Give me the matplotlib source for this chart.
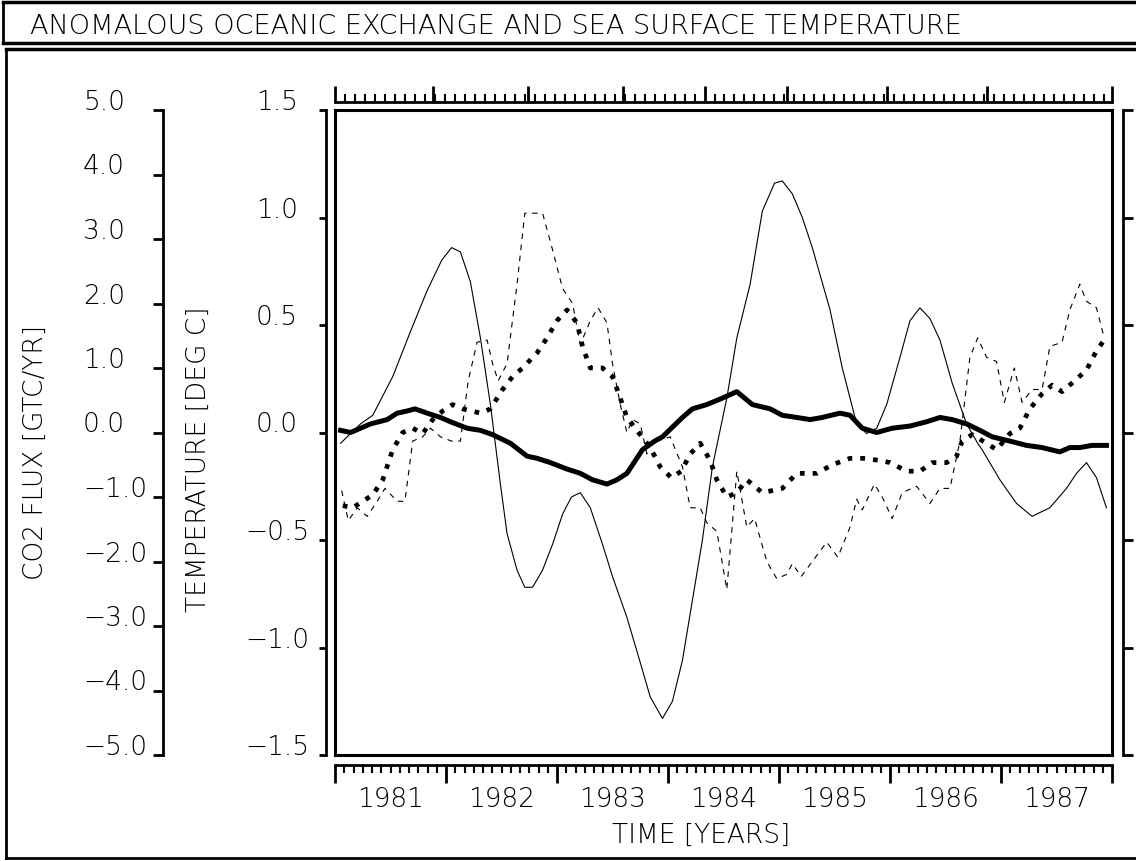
import matplotlib
matplotlib.use("Agg")
import matplotlib.pyplot as plt
from matplotlib.lines import Line2D
from matplotlib.ticker import FixedLocator, MultipleLocator, NullFormatter

# Thin solid line (large oscillation), in temperature-axis units
flux_years = [1981.05, 1981.23, 1981.34, 1981.52, 1981.68, 1981.83, 1981.96,
              1982.05, 1982.13, 1982.22, 1982.31, 1982.40, 1982.49, 1982.55, 1982.64, 1982.71, 1982.78, 1982.87, 1982.96,
              1983.05, 1983.13, 1983.21, 1983.30, 1983.41, 1983.50, 1983.63, 1983.75, 1983.84, 1983.95,
              1984.04, 1984.13, 1984.22, 1984.31, 1984.40, 1984.53, 1984.62, 1984.74, 1984.85, 1984.96,
              1985.03, 1985.12, 1985.21, 1985.30, 1985.46, 1985.57, 1985.70, 1985.79, 1985.88, 1985.97,
              1986.09, 1986.18, 1986.27, 1986.36, 1986.45, 1986.56, 1986.69, 1986.79, 1986.83, 1986.99,
              1987.14, 1987.28, 1987.44, 1987.59, 1987.68, 1987.77, 1987.86, 1987.95]
flux_vals = [-0.05, 0.04, 0.08, 0.26, 0.47, 0.66, 0.80,
             0.86, 0.84, 0.70, 0.44, 0.13, -0.24, -0.47, -0.64, -0.72, -0.72, -0.64, -0.52,
             -0.38, -0.30, -0.28, -0.35, -0.52, -0.67, -0.86, -1.07, -1.23, -1.33,
             -1.25, -1.06, -0.78, -0.50, -0.16, 0.16, 0.44, 0.69, 1.03, 1.16,
             1.17, 1.11, 1.00, 0.86, 0.57, 0.30, 0.04, -0.005, 0.02, 0.13,
             0.35, 0.52, 0.58, 0.53, 0.43, 0.23, 0.04, -0.05, -0.08, -0.22,
             -0.33, -0.39, -0.35, -0.26, -0.19, -0.14, -0.21, -0.35]

# Thick solid line (smooth)
smooth_years = [1981.05, 1981.14, 1981.23, 1981.32, 1981.47, 1981.56, 1981.65, 1981.72, 1981.83, 1981.95,
                1982.04, 1982.19, 1982.31, 1982.42, 1982.58, 1982.73, 1982.82, 1982.94,
                1983.09, 1983.21, 1983.32, 1983.45, 1983.54, 1983.63, 1983.77, 1983.88, 1983.95,
                1984.13, 1984.22, 1984.35, 1984.49, 1984.62, 1984.76, 1984.92,
                1985.03, 1985.16, 1985.28, 1985.39, 1985.55, 1985.64, 1985.75, 1985.88,
                1986.02, 1986.18, 1986.33, 1986.45, 1986.56, 1986.69, 1986.81, 1986.92,
                1987.08, 1987.23, 1987.37, 1987.53, 1987.62, 1987.71, 1987.82, 1987.95]
smooth_vals = [0.01, 0.00, 0.02, 0.04, 0.06, 0.09, 0.10, 0.11, 0.09, 0.07,
               0.05, 0.02, 0.01, -0.01, -0.05, -0.11, -0.12, -0.14,
               -0.17, -0.19, -0.22, -0.24, -0.22, -0.19, -0.08, -0.04, -0.02,
               0.07, 0.11, 0.13, 0.16, 0.19, 0.13, 0.11,
               0.08, 0.07, 0.06, 0.07, 0.09, 0.08, 0.02, 0.00,
               0.02, 0.03, 0.05, 0.07, 0.06, 0.04, 0.01, -0.02,
               -0.04, -0.06, -0.07, -0.09, -0.07, -0.07, -0.06, -0.06]

# Thick dotted line
sst_sm_years = [1981.07, 1981.16, 1981.25, 1981.34, 1981.43, 1981.52, 1981.61, 1981.70, 1981.79, 1981.88, 1981.97,
                1982.06, 1982.15, 1982.31, 1982.40, 1982.51, 1982.60, 1982.69, 1982.82, 1982.91,
                1983.00, 1983.09, 1983.18, 1983.23, 1983.30, 1983.41, 1983.50, 1983.57, 1983.63, 1983.72, 1983.84, 1983.93,
                1984.03, 1984.12, 1984.20, 1984.29, 1984.38, 1984.44, 1984.53, 1984.62, 1984.71, 1984.85,
                1985.03, 1985.16, 1985.34, 1985.48, 1985.64, 1985.75, 1985.91,
                1986.00, 1986.15, 1986.27, 1986.38, 1986.51, 1986.60, 1986.65, 1986.74, 1986.87, 1986.96,
                1987.08, 1987.17, 1987.26, 1987.37, 1987.46, 1987.55, 1987.64, 1987.77, 1987.86, 1987.93]
sst_sm_vals = [-0.34, -0.35, -0.32, -0.29, -0.22, -0.08, 0.00, 0.02, -0.005, 0.06, 0.10,
               0.13, 0.11, 0.09, 0.11, 0.20, 0.26, 0.30, 0.37, 0.44,
               0.52, 0.57, 0.51, 0.40, 0.30, 0.30, 0.26, 0.16, 0.07, 0.01, -0.07, -0.16,
               -0.21, -0.18, -0.10, -0.05, -0.13, -0.22, -0.30, -0.28, -0.22, -0.28,
               -0.26, -0.19, -0.19, -0.15, -0.12, -0.12, -0.13,
               -0.14, -0.18, -0.18, -0.14, -0.14, -0.11, -0.04, -0.01, -0.05, -0.08,
               -0.005, 0.02, 0.11, 0.18, 0.22, 0.19, 0.23, 0.29, 0.38, 0.43]

# Thin dashed line (noisy)
sst_years = [1981.06, 1981.12, 1981.20, 1981.29, 1981.38, 1981.45, 1981.56, 1981.63, 1981.70, 1981.79, 1981.86, 1981.95,
             1982.05, 1982.13, 1982.20, 1982.28, 1982.37, 1982.42, 1982.47, 1982.55, 1982.64, 1982.71, 1982.78, 1982.87, 1982.96,
             1983.05, 1983.14, 1983.21, 1983.30, 1983.37, 1983.45, 1983.50, 1983.57, 1983.63, 1983.68, 1983.75, 1983.81, 1983.84,
             1984.02, 1984.13, 1984.20, 1984.29, 1984.35, 1984.44, 1984.53, 1984.62, 1984.71, 1984.78, 1984.89, 1984.98,
             1985.07, 1985.12, 1985.20, 1985.30, 1985.43, 1985.53, 1985.64, 1985.70, 1985.75, 1985.86, 1985.93,
             1986.02, 1986.11, 1986.24, 1986.36, 1986.45, 1986.54, 1986.63, 1986.72, 1986.79, 1986.87, 1986.96,
             1987.03, 1987.12, 1987.19, 1987.28, 1987.37, 1987.44, 1987.55, 1987.62, 1987.71, 1987.77, 1987.86, 1987.93]
sst_vals = [-0.27, -0.41, -0.35, -0.39, -0.32, -0.26, -0.32, -0.32, -0.04, -0.02, 0.02, -0.02,
            -0.04, -0.04, 0.24, 0.42, 0.43, 0.32, 0.24, 0.32, 0.69, 1.02, 1.02, 1.02, 0.85,
            0.67, 0.60, 0.41, 0.52, 0.58, 0.51, 0.32, 0.13, 0.00, 0.06, 0.04, -0.10, -0.05,
            -0.02, -0.16, -0.35, -0.35, -0.42, -0.46, -0.73, -0.18, -0.44, -0.40, -0.60, -0.68,
            -0.66, -0.61, -0.67, -0.60, -0.51, -0.58, -0.44, -0.31, -0.36, -0.24, -0.30,
            -0.40, -0.28, -0.25, -0.33, -0.26, -0.26, -0.04, 0.35, 0.44, 0.35, 0.33,
            0.14, 0.30, 0.14, 0.20, 0.20, 0.40, 0.42, 0.57, 0.69, 0.61, 0.58, 0.44]

year_labels = ["1981", "1982", "1983", "1984", "1985", "1986", "1987"]
temp_ticks = [-1.5, -1.0, -0.5, 0.0, 0.5, 1.0, 1.5]
flux_ticks = [-5.0, -4.0, -3.0, -2.0, -1.0, 0.0, 1.0, 2.0, 3.0, 4.0, 5.0]

W, H = 1136, 861
PT = 72 / 100  # points per pixel at dpi 100

plt.rcParams["font.family"] = ["DejaVu Sans"]
plt.rcParams["font.weight"] = "light"


def fx(x):
    return x / W


def fy(y):
    return 1 - y / H


def fmt(v):
    return f"{v:.1f}".replace("-", "\u2212")


# Blank overlay axes: used to draw one offset spine each
def bare(a):
    a.set_facecolor("none")
    for s in a.spines.values():
        s.set_visible(False)
    a.set_xticks([])
    a.set_yticks([])


fig = plt.figure(figsize=(W / 100, H / 100), dpi=100)
rect = [fx(335), fy(755), (1112 - 335) / W, (755 - 110) / H]

# main data frame
ax = fig.add_axes(rect)
ax.set_xlim(1981, 1988)
ax.set_ylim(-1.5, 1.5)
ax.set_xticks([])
ax.set_yticks([])
for s in ax.spines.values():
    s.set_linewidth(2.2)

ax.plot(flux_years, flux_vals, color="black", lw=0.8)
ax.plot(smooth_years, smooth_vals, color="black", lw=3.6, solid_joinstyle="round")
ax.plot(sst_years, sst_vals, color="black", lw=0.8, linestyle=(0, (5, 5)))
ax.plot(sst_sm_years, sst_sm_vals, color="black", lw=3.4, linestyle=(0, (1, 1.7)))

# temperature axis (left, offset)
axT = fig.add_axes(rect)
bare(axT)
axT.set_ylim(-1.5, 1.5)
axT.spines["left"].set_visible(True)
axT.spines["left"].set_position(("outward", 9 * PT))
axT.spines["left"].set_linewidth(2)
axT.set_yticks(temp_ticks, [fmt(v) for v in temp_ticks])
axT.tick_params(axis="y", direction="out", length=7 * PT, width=2, pad=42 * PT, labelsize=19)
for t in axT.get_yticklabels():
    t.set_ha("center")
    t.set_va("baseline")

# right axis (no labels)
axR = fig.add_axes(rect)
bare(axR)
axR.set_ylim(-1.5, 1.5)
axR.spines["right"].set_visible(True)
axR.spines["right"].set_position(("outward", 11 * PT))
axR.spines["right"].set_linewidth(2)
axR.yaxis.set_ticks_position("right")
axR.set_yticks(temp_ticks, [])
axR.tick_params(axis="y", direction="out", length=10 * PT, width=2)

# CO2 flux axis (far left)
axF = fig.add_axes(rect)
bare(axF)
axF.set_ylim(-5, 5)
axF.spines["left"].set_visible(True)
axF.spines["left"].set_position(("outward", 172 * PT))
axF.spines["left"].set_linewidth(2)
axF.set_yticks(flux_ticks, [fmt(v) for v in flux_ticks])
axF.tick_params(axis="y", direction="out", length=10 * PT, width=2, pad=70 * PT, labelsize=19)
for t in axF.get_yticklabels():
    t.set_ha("left")
    t.set_va("baseline")

# bottom time axis: yearly major ticks, monthly minor ticks
axB = fig.add_axes(rect)
bare(axB)
axB.set_xlim(1981, 1988)
axB.spines["bottom"].set_visible(True)
axB.spines["bottom"].set_position(("outward", 10 * PT))
axB.spines["bottom"].set_linewidth(2)
axB.xaxis.set_major_locator(MultipleLocator(1))
axB.xaxis.set_minor_locator(MultipleLocator(1 / 12))
axB.xaxis.set_major_formatter(NullFormatter())
axB.tick_params(axis="x", which="major", direction="out", length=18 * PT, width=2)
axB.tick_params(axis="x", which="minor", direction="out", length=8 * PT, width=1.5)

# year labels centred in each year
axY = fig.add_axes(rect)
bare(axY)
axY.set_xlim(1981, 1988)
axY.spines["bottom"].set_position(("outward", 10 * PT))
axY.set_xticks([int(y) + 0.5 for y in year_labels], year_labels)
axY.tick_params(axis="x", length=0, pad=22 * PT, labelsize=19)

# top axis
axTop = fig.add_axes(rect)
bare(axTop)
axTop.set_xlim(0, 7.78)
axTop.spines["top"].set_visible(True)
axTop.spines["top"].set_position(("outward", 8 * PT))
axTop.spines["top"].set_linewidth(2)
axTop.xaxis.set_ticks_position("top")
axTop.xaxis.set_major_locator(FixedLocator([0, 0.98, 1.93, 2.88, 3.7, 4.53, 5.53, 6.53, 7.78]))
axTop.xaxis.set_minor_locator(MultipleLocator(0.1))
axTop.xaxis.set_major_formatter(NullFormatter())
axTop.tick_params(axis="x", which="major", direction="out", length=16 * PT, width=2)
axTop.tick_params(axis="x", which="minor", direction="out", length=8 * PT, width=1.5)

# labels and title
fig.text(fx(35), fy(452), "CO2 FLUX [GTC/YR]", rotation=90, ha="center", va="center", fontsize=19)
fig.text(fx(198), fy(459), "TEMPERATURE [DEG C]", rotation=90, ha="center", va="center", fontsize=19)
fig.text(fx(701), fy(835), "TIME [YEARS]", ha="center", va="center", fontsize=19)
fig.text(fx(30), fy(26), "ANOMALOUS OCEANIC EXCHANGE AND SEA SURFACE TEMPERATURE",
         ha="left", va="center", fontsize=19.5)

# outer frames
for (x0, y0, x1, y1, lw) in [(3, 2, W, 2, 2.5), (3, 2, 3, 43, 2), (3, 43, W, 43, 2.5),
                             (6, 49, W, 49, 2.5), (6, 49, 6, 858, 2), (6, 858, W, 858, 2)]:
    fig.add_artist(Line2D([fx(x0), fx(x1)], [fy(y0), fy(y1)], color="black", lw=lw,
                          transform=fig.transFigure))

fig.savefig("out.png", dpi=100)
